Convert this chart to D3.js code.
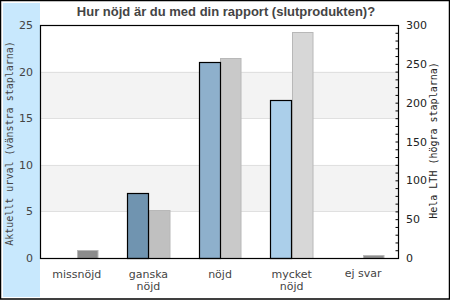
<!DOCTYPE html>
<html>
<head>
<meta charset="utf-8">
<script src="https://cdn.jsdelivr.net/npm/d3@7"></script>
<style>
  body { margin: 0; background: #fff; }
  svg { display: block; }
</style>
</head>
<body>
<svg width="450" height="300"></svg>
<script>
// data
const categories = ["missnöjd", "ganska nöjd", "nöjd", "mycket nöjd", "ej svar"];
const labelLines = [["missnöjd"], ["ganska", "nöjd"], ["nöjd"], ["mycket", "nöjd"], ["ej svar"]];
const urval = [0, 7, 21, 17, 0];          // left axis, blue bars
const helaLTH = [10, 62, 257, 291, 4];     // right axis, gray bars
const leftTicks = [0, 5, 10, 15, 20, 25];
const rightTicks = [0, 50, 100, 150, 200, 250, 300];

const blueFill = ["#5a7f9f", "#7094b0", "#8eb0cc", "#abcfea", "#99aabb"];
const grayFill = ["#8c8c8c", "#c0c0c0", "#c9c9c9", "#d7d7d7", "#8f8f8f"];

const svg = d3.select('svg');

// outer frame + left strip
svg.append('rect').attr('x', 0.5).attr('y', 0.5).attr('width', 449).attr('height', 298.5)
  .attr('fill', '#fff').attr('stroke', '#000').attr('stroke-width', 1.5);
svg.append('rect').attr('x', 3).attr('y', 3).attr('width', 37).attr('height', 294)
  .attr('fill', '#c8e8fd');

const pLeft = 40, pRight = 398, pTop = 25, pBottom = 258;

const x = d3.scaleBand().domain(categories).range([pLeft, pRight]);
const yL = d3.scaleLinear().domain([0, 25]).range([pBottom, pTop]);
const yR = d3.scaleLinear().domain([0, 300]).range([pBottom, pTop]);
const x1 = d3.scaleBand().domain(["a", "b"]).range([15.5, 58.5]);

const g = svg.append('g');

// bands
g.append('rect').attr('x', pLeft).attr('width', pRight - pLeft)
  .attr('y', yL(20)).attr('height', yL(15) - yL(20)).attr('fill', '#f3f3f3');
g.append('rect').attr('x', pLeft).attr('width', pRight - pLeft)
  .attr('y', yL(10)).attr('height', yL(5) - yL(10)).attr('fill', '#f3f3f3');

// grid
g.selectAll('line.grid').data([5, 10, 15, 20]).enter().append('line')
  .attr('class', 'grid')
  .attr('x1', pLeft).attr('x2', pRight)
  .attr('y1', d => Math.round(yL(d)) + 0.5).attr('y2', d => Math.round(yL(d)) + 0.5)
  .attr('stroke', '#e0e0e0');

// gray bars (right axis)
g.selectAll('rect.lth').data(helaLTH).enter().append('rect')
  .attr('class', 'lth')
  .attr('x', (d, i) => Math.round(x(categories[i]) + x1('b')) + 0.5)
  .attr('width', 20.5)
  .attr('y', d => Math.round(yR(d)) + 0.5)
  .attr('height', d => pBottom - Math.round(yR(d)))
  .attr('fill', (d, i) => grayFill[i])
  .attr('stroke', '#b8b8b8');

// blue bars (left axis)
const blueData = urval.map((v, i) => ({ v, i })).filter(d => d.v > 0);
g.selectAll('rect.urval').data(blueData).enter().append('rect')
  .attr('class', 'urval')
  .attr('x', d => Math.round(x(categories[d.i]) + x1('a')) + 0.5)
  .attr('width', 21)
  .attr('y', d => Math.round(yL(d.v)) + 0.5)
  .attr('height', d => pBottom - Math.round(yL(d.v)))
  .attr('fill', d => blueFill[d.i])
  .attr('stroke', '#000').attr('stroke-width', 1.2);

// plot frame
g.append('rect').attr('x', pLeft + 0.5).attr('y', pTop + 0.5)
  .attr('width', pRight - pLeft).attr('height', pBottom - pTop)
  .attr('fill', 'none').attr('stroke', '#000').attr('stroke-width', 1.2);

// left axis labels
const leftAxis = d3.axisLeft(yL).tickValues(leftTicks).tickSize(0).tickPadding(7);
const la = svg.append('g').attr('transform', `translate(${pLeft},0)`).call(leftAxis);
la.select('.domain').remove();
la.selectAll('text').attr('font-family', 'DejaVu Sans').attr('font-size', 11).attr('fill', '#444');

// right axis with minor inner ticks
const minor = d3.range(0, 301, 10);
const ra = svg.append('g').attr('transform', `translate(${pRight + 0.5},0)`)
  .call(d3.axisLeft(yR).tickValues(minor).tickSize(3).tickFormat(''));
ra.select('.domain').remove();
ra.selectAll('line').attr('stroke', '#000');
const raL = svg.append('g').attr('transform', `translate(${pRight},0)`)
  .call(d3.axisRight(yR).tickValues(rightTicks).tickSize(0).tickPadding(8));
raL.select('.domain').remove();
raL.selectAll('text').attr('font-family', 'DejaVu Sans').attr('font-size', 11).attr('fill', '#222');

// x labels
const xl = svg.append('g');
categories.forEach((c, i) => {
  const cx = x(c) + x.bandwidth() / 2 + 1;
  const t = xl.append('text')
    .attr('x', cx)
    .attr('y', labelLines[i].length > 1 || i < 3 ? 278 : 277)
    .attr('text-anchor', 'middle')
    .attr('font-family', 'DejaVu Sans').attr('font-size', 11).attr('fill', '#444');
  labelLines[i].forEach((w, j) => {
    t.append('tspan').attr('x', cx).attr('dy', j ? 12 : 0).text(w);
  });
});

// title
svg.append('text').attr('x', 226).attr('y', 16).attr('text-anchor', 'middle')
  .attr('font-family', 'Liberation Sans, Arial').attr('font-weight', 'bold')
  .attr('font-size', 13).attr('fill', '#444')
  .text('Hur nöjd är du med din rapport (slutprodukten)?');

// axis titles
svg.append('text').attr('transform', `translate(13,${(pTop + pBottom) / 2 + 2}) rotate(-90)`)
  .attr('text-anchor', 'middle')
  .attr('font-family', 'DejaVu Sans Mono').attr('font-size', 10).attr('fill', '#444')
  .text('Aktuellt urval (vänstra staplarna)');
svg.append('text').attr('transform', `translate(437,${(pTop + pBottom) / 2 - 1}) rotate(-90)`)
  .attr('text-anchor', 'middle')
  .attr('font-family', 'DejaVu Sans Mono').attr('font-size', 10).attr('fill', '#222')
  .text('Hela LTH (högra staplarna)');
</script>
</body>
</html>
